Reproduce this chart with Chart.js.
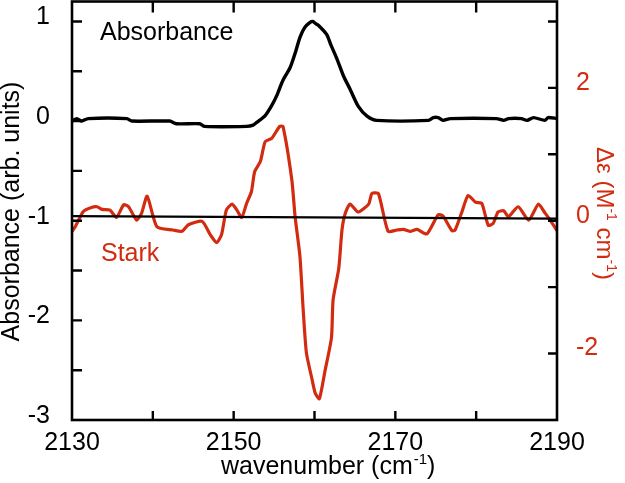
<!DOCTYPE html>
<html><head><meta charset="utf-8">
<script src="https://cdn.jsdelivr.net/npm/chart.js@4/dist/chart.umd.min.js"></script>
<style>html,body{margin:0;padding:0;background:#fff;}#wrap{width:625px;height:483px;position:relative;}</style>
</head><body><div id="wrap"><canvas id="c"></canvas></div>
<script>
// ---- data ----
const absWavenumber = [2130.0,2130.6,2131.2,2132.0,2136.8,2137.4,2142.1,2142.9,2145.8,2146.4,2151.6,2152.4,2152.9,2153.9,2154.7,2155.3,2156.1,2157.0,2157.6,2158.2,2158.8,2159.45,2159.8,2160.1,2160.5,2161.5,2162.0,2162.75,2163.6,2164.4,2165.4,2166.5,2167.7,2174.1,2174.7,2175.3,2175.9,2176.8,2182.5,2183.4,2184.0,2185.6,2186.3,2187.1,2188.5,2188.9,2190.0];
const absorbance    = [0.0,0.025,0.0,0.025,0.025,0.0,0.0,-0.027,-0.027,-0.053,-0.053,-0.04,-0.01,0.055,0.155,0.25,0.41,0.54,0.68,0.84,0.94,0.99,1.0,0.98,0.96,0.87,0.77,0.63,0.45,0.32,0.15,0.05,0.007,0.007,0.035,0.035,0.007,0.025,0.025,0.007,0.025,0.025,0.007,0.035,0.007,0.035,0.025];

const starkWavenumber = [2130.0,2130.4,2131.4,2132.4,2133.1,2133.7,2134.7,2135.5,2136.4,2137.0,2138.0,2138.6,2139.3,2140.5,2142.5,2143.6,2144.4,2146.1,2147.1,2147.9,2148.5,2149.1,2149.8,2150.4,2151.0,2151.6,2152.2,2152.6,2153.3,2153.9,2154.7,2155.7,2156.1,2157.2,2157.6,2158.2,2158.6,2159.0,2159.7,2160.1,2160.6,2161.3,2162.1,2162.3,2163.0,2163.4,2163.8,2164.4,2165.4,2166.7,2167.1,2167.9,2169.1,2170.2,2171.0,2171.8,2172.7,2173.9,2175.3,2175.9,2177.0,2177.4,2178.2,2179.0,2179.9,2180.7,2181.5,2182.1,2182.7,2183.4,2184.0,2185.2,2186.5,2187.7,2188.5,2189.1,2190.0];
const starkDeltaEps = [-0.16,-0.09,0.14,0.20,0.21,0.17,0.16,0.05,0.24,0.21,0.01,0.11,0.37,-0.09,-0.14,-0.16,-0.06,-0.01,-0.21,-0.33,-0.21,0.16,0.25,0.16,0.05,0.26,0.44,0.74,0.89,1.19,1.24,1.42,1.42,0.61,0.06,-0.54,-1.34,-1.99,-2.39,-2.6,-2.68,-2.26,-1.76,-1.19,-0.72,-0.14,0.11,0.25,0.13,0.25,0.41,0.41,-0.16,-0.14,-0.13,-0.16,-0.13,-0.20,0.09,0.07,-0.15,-0.14,0.12,0.38,0.28,0.26,-0.07,-0.04,0.13,0.15,0.06,0.21,0.01,0.25,0.12,0.02,-0.15];

const zeroLineWavenumber = [2130, 2190];
const zeroLineValue = [0.07, 0.03];

const xTickValues = [2130,2140,2150,2160,2170,2180,2190];
const xTickLabels = [2130,2150,2170,2190];
const leftTickLabels = [1,0,-1,-2,-3];
const rightTickLabels = [2,0,-2];

// ---- styles ----
const RED = 'rgb(210,43,16)';
const FONT = '"Liberation Sans", Arial, Helvetica, sans-serif';

const pts = (xs, ys) => xs.map((x, i) => ({x, y: ys[i]}));
const noPad = (s) => { s.paddingTop = 0; s.paddingBottom = 0; s.paddingLeft = 0; s.paddingRight = 0; };

const framePlugin = {
  id: 'frame',
  afterDraw(chart) {
    const {ctx, chartArea: a, scales} = chart;
    ctx.save();
    ctx.strokeStyle = '#000';
    ctx.lineWidth = 2.6;
    ctx.lineCap = 'butt';
    ctx.strokeRect(a.left, a.top, a.right - a.left, a.bottom - a.top);
    ctx.lineWidth = 2.4;
    ctx.beginPath();
    scales.x.ticks.forEach(t => {
      if (t.value <= 2130 || t.value >= 2190) return;
      const px = scales.x.getPixelForValue(t.value);
      ctx.moveTo(px, a.bottom); ctx.lineTo(px, a.bottom - 9);
      ctx.moveTo(px, a.top); ctx.lineTo(px, a.top + 11);
    });
    scales.yL.ticks.forEach(t => {
      if (t.value <= -3 || t.value >= 1.2) return;
      const py = scales.yL.getPixelForValue(t.value);
      ctx.moveTo(a.left, py); ctx.lineTo(a.left + 10, py);
    });
    scales.yR.ticks.forEach(t => {
      if (t.value <= -3 || t.value >= 3.3) return;
      const py = scales.yR.getPixelForValue(t.value);
      ctx.moveTo(a.right, py); ctx.lineTo(a.right - 9, py);
    });
    ctx.stroke();

    const F = (s) => s + 'px ' + FONT;
    ctx.textBaseline = 'alphabetic';
    ctx.fillStyle = '#000';
    ctx.font = F(25);
    ctx.textAlign = 'left';
    ctx.fillText('Absorbance', 100, 40);
    ctx.fillStyle = RED;
    ctx.fillText('Stark', 101, 261);

    // bottom title
    ctx.fillStyle = '#000';
    let x = 221, y = 474;
    ctx.font = F(25);
    ctx.fillText('wavenumber (cm', x, y);
    x += ctx.measureText('wavenumber (cm').width;
    ctx.font = F(15);
    ctx.fillText('-1', x + 1, y - 10);
    x += ctx.measureText('-1').width + 1;
    ctx.font = F(25);
    ctx.fillText(')', x, y);

    // left title
    ctx.save();
    ctx.translate(19, 211.5);
    ctx.rotate(-Math.PI / 2);
    ctx.textAlign = 'center';
    ctx.font = F(25);
    ctx.fillText('Absorbance (arb. units)', 0, 0);
    ctx.restore();

    // right title
    ctx.save();
    ctx.translate(597, 147);
    ctx.rotate(Math.PI / 2);
    ctx.textAlign = 'left';
    ctx.fillStyle = RED;
    let u = 0;
    const seg = (txt, size, dy) => {
      ctx.font = F(size);
      ctx.fillText(txt, u, dy);
      u += ctx.measureText(txt).width;
    };
    seg('\u0394\u03b5 (M', 24, 0);
    seg('-1', 14, -10);
    seg(' cm', 24, 0);
    seg('-1', 14, -10);
    seg(')', 24, 0);
    ctx.restore();
    ctx.restore();
  }
};

new Chart(document.getElementById('c'), {
  type: 'line',
  data: {
    datasets: [
      { label: 'zero', data: pts(zeroLineWavenumber, zeroLineValue), yAxisID: 'yR',
        borderColor: '#000', borderWidth: 2.2, pointRadius: 0, order: 0 },
      { label: 'Absorbance', data: pts(absWavenumber, absorbance), yAxisID: 'yL',
        borderColor: '#000', borderWidth: 3.4, pointRadius: 0, tension: 0.25, order: 1 },
      { label: 'Stark', data: pts(starkWavenumber, starkDeltaEps), yAxisID: 'yR',
        borderColor: RED, borderWidth: 3.2, pointRadius: 0, tension: 0.2, order: 2 }
    ]
  },
  options: {
    responsive: true, maintainAspectRatio: false, animation: false,
    layout: { padding: { top: 1.5, left: 0, right: 0, bottom: 0 } },
    plugins: { legend: { display: false }, tooltip: { enabled: false } },
    elements: { line: { borderJoinStyle: 'round', borderCapStyle: 'round' } },
    scales: {
      x: {
        type: 'linear', position: 'bottom', min: 2130, max: 2190,
        afterBuildTicks: (s) => { s.ticks = xTickValues.map(v => ({value: v})); },
        afterFit: (s) => { s.height = 63; noPad(s); },
        grid: { display: false }, border: { display: false },
        ticks: { autoSkip: false, maxRotation: 0, padding: 0, color: '#000',
          font: { family: FONT, size: 25 },
          callback: (v) => xTickLabels.includes(v) ? String(v) : '' }
      },
      yL: {
        type: 'linear', position: 'left', min: -3, max: 1.2,
        ticks: { stepSize: 0.5, includeBounds: false, padding: 14, labelOffset: -4, color: '#000',
          font: { family: FONT, size: 25 },
          callback: (v) => leftTickLabels.includes(v) ? String(v) : '' },
        afterFit: (s) => { s.width = 72; noPad(s); },
        grid: { display: false }, border: { display: false }
      },
      yR: {
        type: 'linear', position: 'right', min: -3, max: 3.3,
        ticks: { stepSize: 1, includeBounds: false, padding: 11, labelOffset: -5, color: RED,
          font: { family: FONT, size: 25 },
          callback: (v) => rightTickLabels.includes(v) ? String(v) : '' },
        afterFit: (s) => { s.width = 68; noPad(s); },
        grid: { display: false }, border: { display: false }
      }
    }
  },
  plugins: [framePlugin]
});
</script>
</body></html>
